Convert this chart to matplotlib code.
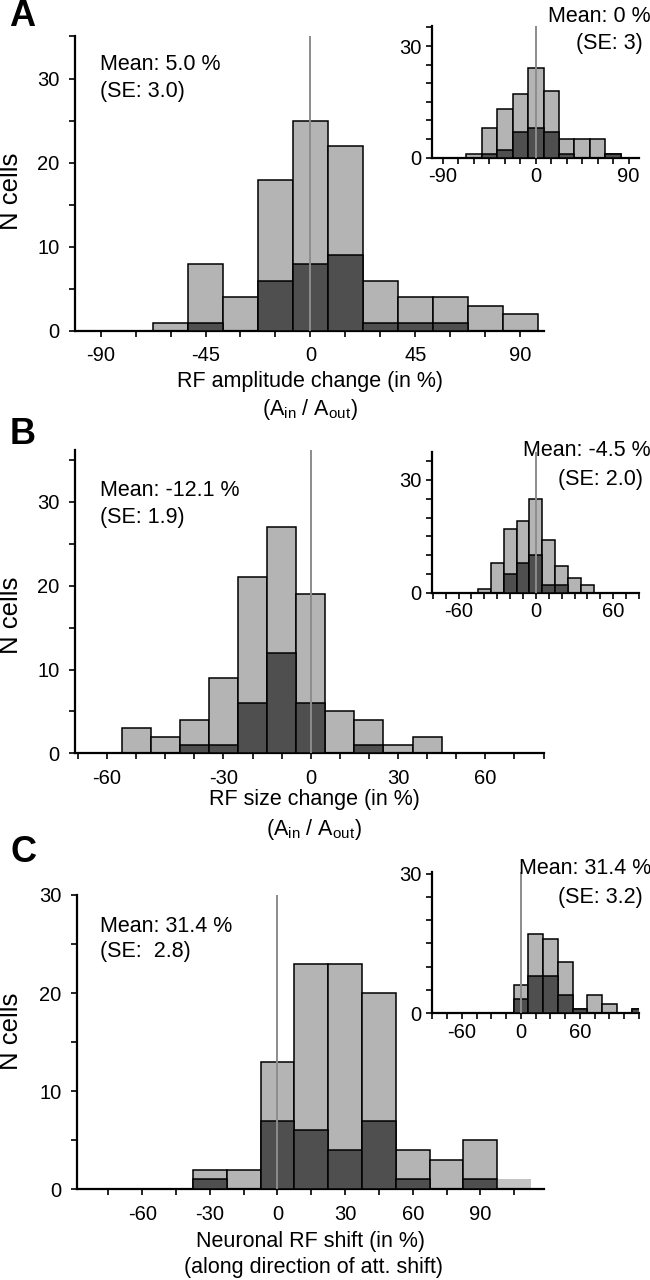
"""Three-panel RF histograms (amplitude, size, shift) with insets."""

import matplotlib

matplotlib.use("Agg")
import matplotlib.pyplot as plt
from matplotlib.ticker import MultipleLocator

plt.rcParams["font.family"] = ["Liberation Sans", "DejaVu Sans"]
plt.rcParams["axes.unicode_minus"] = False

W, H = 650, 1280
LIGHT = "#b4b4b4"
DARK = "#4f4f4f"
FAINT = "#c4c4c4"
MEAN_LINE = "#8c8c8c"
FS = 15.5
FS_TICK = 14.5

# Panel A: RF amplitude change (bins of 15 %)
a_centers = [-60, -45, -30, -15, 0, 15, 30, 45, 60, 75, 90]
a_total = [1, 8, 4, 18, 25, 22, 6, 4, 4, 3, 2]
a_dark = [0, 1, 0, 6, 8, 9, 1, 1, 1, 0, 0]
a_in_centers = [-60, -45, -30, -15, 0, 15, 30, 45, 60, 75]
a_in_total = [1, 8, 13, 17, 24, 18, 5, 5, 5, 1]
a_in_dark = [0, 1, 2, 7, 8, 7, 1, 0, 0, 1]

# Panel B: RF size change (bins of 10 %)
b_centers = [-60, -50, -40, -30, -20, -10, 0, 10, 20, 30, 40]
b_total = [3, 2, 4, 9, 21, 27, 19, 5, 4, 1, 2]
b_dark = [0, 0, 1, 1, 6, 12, 6, 0, 1, 0, 0]
b_in_centers = [-40, -30, -20, -10, 0, 10, 20, 30, 40]
b_in_total = [1, 8, 17, 19, 25, 14, 7, 4, 2]
b_in_dark = [0, 0, 5, 8, 10, 2, 2, 0, 0]

# Panel C: neuronal RF shift (bins of 15 %)
c_centers = [-30, -15, 0, 15, 30, 45, 60, 75, 90]
c_total = [2, 2, 13, 23, 23, 20, 4, 3, 5]
c_dark = [1, 0, 7, 6, 4, 7, 1, 0, 1]
c_extra_centers = [105]
c_extra_total = [1]
c_in_centers = [0, 15, 30, 45, 60, 75, 90, 105, 120]
c_in_total = [6, 17, 16, 11, 1, 4, 2, 0, 1]
c_in_dark = [3, 8, 8, 4, 1, 0, 0, 0, 1]


def add_axes(fig, left, top, right, bottom):
    """Axes from pixel box (left, top, right, bottom)."""
    return fig.add_axes([left / W, 1 - bottom / H, (right - left) / W, (bottom - top) / H])


def style(ax, xlim, ylim, xmajor, xminor, ymajor, yminor, pad, labels=None):
    ax.set_xlim(*xlim)
    ax.set_ylim(*ylim)
    for side in ("top", "right"):
        ax.spines[side].set_visible(False)
    for side in ("left", "bottom"):
        ax.spines[side].set_linewidth(1.6)
    ax.set_xticks(xmajor)
    if labels is not None:
        ax.set_xticklabels(labels)
    ax.xaxis.set_minor_locator(MultipleLocator(xminor))
    ax.set_yticks(ymajor)
    ax.yaxis.set_minor_locator(MultipleLocator(yminor))
    ax.tick_params(which="both", direction="out", length=4, width=1.2, labelsize=FS_TICK)
    ax.tick_params(axis="x", pad=pad)
    ax.tick_params(axis="y", pad=pad)


def draw_hist(ax, centers, total, dark, width):
    ax.bar(centers, total, width=width, color=LIGHT, edgecolor="black", linewidth=1.1, zorder=2)
    ax.bar(centers, dark, width=width, color=DARK, edgecolor="black", linewidth=1.1, zorder=3)
    ax.axvline(0, color=MEAN_LINE, linewidth=1.4, zorder=4)


def fig_text(fig, x, y, s, **kw):
    fig.text(x / W, 1 - y / H, s, **kw)


fig = plt.figure(figsize=(W / 100, H / 100), dpi=100)
sub = r"(A$_{\mathregular{in}}$ / A$_{\mathregular{out}}$)"

# ---- A ----
ax = add_axes(fig, 75, 36, 543.5, 331)
draw_hist(ax, a_centers, a_total, a_dark, 15)
style(ax, (-101, 100), (0, 35.05), [-90, -45, 0, 45, 90], 15, [0, 10, 20, 30], 5, 7)
ins = add_axes(fig, 431.5, 26, 639, 157.7)
draw_hist(ins, a_in_centers, a_in_total, a_in_dark, 15)
style(ins, (-101, 100), (0, 35.4), [-90, 0, 90], 15, [0, 30], 5, 3)
fig_text(fig, 100, 65, "Mean: 5.0 %", fontsize=FS, va="center")
fig_text(fig, 100, 92, "(SE: 3.0)", fontsize=FS, va="center")
fig_text(fig, 651, 17, "Mean: 0 %", fontsize=FS, va="center", ha="right")
fig_text(fig, 643, 44, "(SE: 3)", fontsize=FS, va="center", ha="right")
fig_text(fig, 310, 381, "RF amplitude change (in %)", fontsize=FS, va="center", ha="center")
fig_text(fig, 310, 409, sub, fontsize=FS, va="center", ha="center")
fig_text(fig, 11, 191, "N cells", fontsize=18.5, va="center", ha="center", rotation=90)
fig_text(fig, 22, 17, "A", fontsize=26, fontweight="bold", va="center", ha="center")

# ---- B ----
ax = add_axes(fig, 75, 450, 543.5, 753.3)
draw_hist(ax, b_centers, b_total, b_dark, 10)
style(ax, (-81, 80), (0, 36.2), [-70, -30, 0, 30, 60], 10, [0, 10, 20, 30], 5, 7,
      labels=["-60", "-30", "0", "30", "60"])
ins = add_axes(fig, 431.5, 451.7, 639, 592.7)
draw_hist(ins, b_in_centers, b_in_total, b_in_dark, 10)
style(ins, (-81, 80), (0, 37.5), [-60, 0, 60], 10, [0, 30], 5, 3)
fig_text(fig, 100, 490, "Mean: -12.1 %", fontsize=FS, va="center")
fig_text(fig, 100, 517, "(SE: 1.9)", fontsize=FS, va="center")
fig_text(fig, 651, 451, "Mean: -4.5 %", fontsize=FS, va="center", ha="right")
fig_text(fig, 643, 479, "(SE: 2.0)", fontsize=FS, va="center", ha="right")
fig_text(fig, 314, 799, "RF size change (in %)", fontsize=FS, va="center", ha="center")
fig_text(fig, 314, 829, sub, fontsize=FS, va="center", ha="center")
fig_text(fig, 11, 615, "N cells", fontsize=18.5, va="center", ha="center", rotation=90)
fig_text(fig, 23, 435, "B", fontsize=26, fontweight="bold", va="center", ha="center")

# ---- C ----
ax = add_axes(fig, 76.8, 895, 543.5, 1189.3)
draw_hist(ax, c_centers, c_total, c_dark, 15)
ax.bar(c_extra_centers, c_extra_total, width=15, color=FAINT, edgecolor="none", zorder=2)
style(ax, (-89, 118), (0, 30), [-60, -30, 0, 30, 60, 90], 15, [0, 10, 20, 30], 5, 7)
ins = add_axes(fig, 431.5, 871.7, 639, 1013.3)
draw_hist(ins, c_in_centers, c_in_total, c_in_dark, 15)
style(ins, (-91, 120), (0, 30.4), [-60, 0, 60], 15, [0, 30], 5, 3)
fig_text(fig, 100, 926, "Mean: 31.4 %", fontsize=FS, va="center")
fig_text(fig, 100, 952, "(SE:  2.8)", fontsize=FS, va="center")
fig_text(fig, 651, 869, "Mean: 31.4 %", fontsize=FS, va="center", ha="right")
fig_text(fig, 643, 898, "(SE: 3.2)", fontsize=FS, va="center", ha="right")
fig_text(fig, 310, 1241, "Neuronal RF shift (in %)", fontsize=FS, va="center", ha="center")
fig_text(fig, 313, 1267, "(along direction of att. shift)", fontsize=FS, va="center", ha="center")
fig_text(fig, 11, 1031, "N cells", fontsize=18.5, va="center", ha="center", rotation=90)
fig_text(fig, 23, 852, "C", fontsize=26, fontweight="bold", va="center", ha="center")

fig.savefig("out.png", dpi=100)
plt.close(fig)
